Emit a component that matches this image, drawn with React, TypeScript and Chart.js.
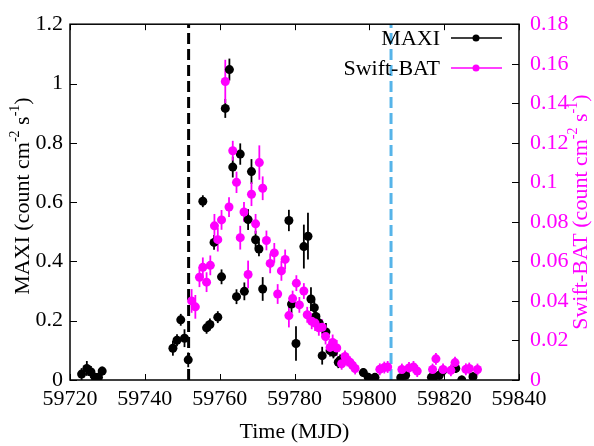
import React, { useEffect, useRef } from 'react';
import { Chart, registerables } from 'chart.js';

Chart.register(...registerables);

// ---- Data ----
const maxiMjd = [
  59723.1, 59724.5, 59725.6, 59726.7, 59727.6, 59728.6,
  59747.5, 59748.6, 59749.6, 59750.6, 59751.6,
  59755.5, 59756.5, 59757.4, 59758.5, 59759.5, 59760.5, 59761.5, 59762.6, 59763.5,
  59764.5, 59765.5, 59766.6, 59767.6, 59768.5, 59769.6, 59770.5, 59771.5,
  59778.5, 59779.2, 59780.4, 59782.5, 59783.6, 59784.4, 59785.3, 59785.7, 59786.6,
  59787.4, 59788.4, 59789.5, 59790.4, 59791.7, 59792.2,
  59798.4, 59799.7, 59801.5, 59808.4, 59809.7,
  59816.6, 59817.3, 59818.7, 59819.6, 59823.1, 59824.7, 59827.7,
];
const maxiRate = [
  0.020, 0.039, 0.027, 0.009, 0.009, 0.030,
  0.107, 0.134, 0.203, 0.141, 0.068,
  0.603, 0.176, 0.187, 0.464, 0.212, 0.348, 0.916, 1.047, 0.718,
  0.281, 0.762, 0.299, 0.541, 0.703, 0.473, 0.442, 0.307,
  0.538, 0.256, 0.123, 0.450, 0.485, 0.273, 0.244, 0.214, 0.192,
  0.082, 0.162, 0.099, 0.093, 0.060, 0.066,
  0.025, 0.009, 0.009, 0.008, 0.016,
  0.009, 0.011, 0.016, 0.031, 0.039, 0.000, 0.011,
];
const maxiErr = [
  0.020, 0.025, 0.020, 0.015, 0.015, 0.015,
  0.025, 0.020, 0.020, 0.030, 0.025,
  0.020, 0.020, 0.020, 0.025, 0.020, 0.025, 0.032, 0.037, 0.035,
  0.025, 0.036, 0.030, 0.035, 0.042, 0.030, 0.025, 0.040,
  0.036, 0.030, 0.058, 0.074, 0.079, 0.040, 0.030, 0.030, 0.030,
  0.030, 0.030, 0.020, 0.020, 0.020, 0.020,
  0.015, 0.015, 0.015, 0.015, 0.015,
  0.015, 0.015, 0.015, 0.015, 0.015, 0.015, 0.015,
];

const batMjd = [
  59752.5, 59753.5, 59754.6, 59755.5, 59756.5, 59757.5, 59758.6, 59759.5, 59760.5,
  59761.5, 59762.5, 59763.5, 59764.5, 59765.5, 59766.5, 59767.6, 59768.5, 59769.6,
  59770.6, 59771.5, 59772.5, 59773.5, 59774.6, 59775.5, 59776.5, 59777.5, 59778.5,
  59779.5, 59780.5, 59781.3, 59782.5, 59783.4, 59784.6, 59785.5, 59786.5, 59787.4,
  59788.3, 59789.5, 59790.2, 59791.3, 59792.6, 59793.5, 59794.1, 59794.8, 59795.5,
  59796.2, 59802.8, 59804.0, 59804.9, 59808.7, 59810.6, 59811.8, 59812.8,
  59816.9, 59817.8, 59819.7, 59821.8, 59822.9, 59825.8, 59826.7, 59828.9,
];
const batRate = [
  0.040, 0.037, 0.052, 0.057, 0.0495, 0.058, 0.078, 0.071, 0.081,
  0.151, 0.0875, 0.116, 0.100, 0.072, 0.085, 0.0534, 0.094, 0.079,
  0.110, 0.097, 0.0706, 0.059, 0.0643, 0.0435, 0.0552, 0.061, 0.0326,
  0.0412, 0.049, 0.038, 0.045, 0.033, 0.0297, 0.0288, 0.0264, 0.0267,
  0.022, 0.0165, 0.019, 0.0162, 0.0082, 0.0119, 0.0099, 0.009, 0.0074,
  0.0058, 0.0054, 0.0063, 0.0066, 0.0053, 0.0061, 0.0066, 0.0045,
  0.0053, 0.0107, 0.0053, 0.0049, 0.0088, 0.0054, 0.0058, 0.0053,
];
const batErr = [
  0.006, 0.006, 0.005, 0.005, 0.005, 0.005, 0.006, 0.006, 0.005,
  0.011, 0.005, 0.005, 0.0054, 0.006, 0.005, 0.007, 0.006, 0.005,
  0.0087, 0.006, 0.005, 0.005, 0.005, 0.005, 0.005, 0.005, 0.006,
  0.004, 0.004, 0.004, 0.004, 0.004, 0.004, 0.004, 0.004, 0.004,
  0.004, 0.004, 0.004, 0.004, 0.003, 0.003, 0.003, 0.003, 0.003,
  0.003, 0.003, 0.003, 0.003, 0.003, 0.003, 0.003, 0.003,
  0.003, 0.003, 0.003, 0.003, 0.003, 0.003, 0.003, 0.003,
];

const markerMjd = [59751.7, 59805.8];
const markerColors = ['#000000', '#56b4e9'];

const seriesLabels = ['MAXI', 'Swift-BAT'];
const seriesColors = ['#000000', '#ff00ff'];

const FONT = '"Liberation Serif", "Times New Roman", serif';

const errorPlugin = {
  id: 'errorBarsAndMarkers',
  beforeDatasetsDraw(chart: any) {
    const { ctx, chartArea: a, scales } = chart;
    ctx.save();
    markerMjd.forEach((m, i) => {
      const px = scales.x.getPixelForValue(m);
      ctx.strokeStyle = markerColors[i];
      ctx.lineWidth = 3;
      ctx.setLineDash([11, 5]);
      ctx.beginPath();
      ctx.moveTo(px, a.bottom);
      ctx.lineTo(px, a.top);
      ctx.stroke();
    });
    ctx.setLineDash([]);
    const drawErr = (xs: number[], ys: number[], es: number[], scale: any, color: string) => {
      ctx.strokeStyle = color;
      ctx.lineWidth = 1.8;
      for (let i = 0; i < xs.length; i++) {
        const px = scales.x.getPixelForValue(xs[i]);
        const y1 = scale.getPixelForValue(Math.max(0, ys[i] - es[i]));
        const y2 = scale.getPixelForValue(ys[i] + es[i]);
        ctx.beginPath();
        ctx.moveTo(px, y1);
        ctx.lineTo(px, y2);
        ctx.stroke();
      }
    };
    drawErr(maxiMjd, maxiRate, maxiErr, scales.y, seriesColors[0]);
    drawErr(batMjd, batRate, batErr, scales.y2, seriesColors[1]);
    ctx.restore();
  },
};

type Part = { t: string; sup?: boolean };

function drawRich(ctx: CanvasRenderingContext2D, parts: Part[], cx: number, cy: number, rot: number, color: string) {
  const base = `22px ${FONT}`;
  const sup = `14px ${FONT}`;
  ctx.save();
  ctx.translate(cx, cy);
  ctx.rotate(rot);
  ctx.fillStyle = color;
  ctx.textBaseline = 'middle';
  ctx.textAlign = 'left';
  let w = 0;
  parts.forEach((p) => {
    ctx.font = p.sup ? sup : base;
    w += ctx.measureText(p.t).width;
  });
  let x = -w / 2;
  parts.forEach((p) => {
    ctx.font = p.sup ? sup : base;
    ctx.fillText(p.t, x, p.sup ? -8 : 0);
    x += ctx.measureText(p.t).width;
  });
  ctx.restore();
}

const framePlugin = {
  id: 'frameTitlesLegend',
  afterDatasetsDraw(chart: any) {
    const { ctx, chartArea: a, scales } = chart;
    ctx.save();
    ctx.strokeStyle = '#000';
    ctx.lineWidth = 1.5;
    ctx.strokeRect(a.left, a.top, a.right - a.left, a.bottom - a.top);
    const line = (x1: number, y1: number, x2: number, y2: number) => {
      ctx.beginPath();
      ctx.moveTo(x1, y1);
      ctx.lineTo(x2, y2);
      ctx.stroke();
    };
    ctx.lineWidth = 1;
    scales.x.ticks.forEach((t: any) => {
      const px = Math.round(scales.x.getPixelForValue(t.value)) + 0.5;
      line(px, a.bottom, px, a.bottom - 6);
      line(px, a.top, px, a.top + 6);
    });
    scales.y.ticks.forEach((t: any) => {
      const py = Math.round(scales.y.getPixelForValue(t.value)) + 0.5;
      line(a.left, py, a.left + 7, py);
    });
    scales.y2.ticks.forEach((t: any) => {
      const py = Math.round(scales.y2.getPixelForValue(t.value)) + 0.5;
      line(a.right, py, a.right - 7, py);
    });

    const w = chart.width;
    const h = chart.height;
    drawRich(ctx, [{ t: 'Time (MJD)' }], (a.left + a.right) / 2, h - 14, 0, '#000');
    drawRich(
      ctx,
      [{ t: 'MAXI (count cm' }, { t: '-2', sup: true }, { t: ' s' }, { t: '-1', sup: true }, { t: ')' }],
      23, (a.top + a.bottom) / 2 - 6, -Math.PI / 2, '#000'
    );
    drawRich(
      ctx,
      [{ t: 'Swift-BAT (count cm' }, { t: '-2', sup: true }, { t: ' s' }, { t: '-1', sup: true }, { t: ')' }],
      w - 13, (a.top + a.bottom) / 2 + 10, -Math.PI / 2, '#ff00ff'
    );

    ctx.font = `22px ${FONT}`;
    ctx.textAlign = 'right';
    ctx.textBaseline = 'middle';
    const ly = [38, 68];
    seriesLabels.forEach((lab, i) => {
      ctx.fillStyle = '#000';
      ctx.fillText(lab, 440, ly[i] + 1);
      ctx.strokeStyle = seriesColors[i];
      ctx.lineWidth = 1.5;
      line(451, ly[i], 502, ly[i]);
      ctx.fillStyle = seriesColors[i];
      ctx.beginPath();
      ctx.arc(476, ly[i], 3.5, 0, Math.PI * 2);
      ctx.fill();
    });
    ctx.restore();
  },
};

export default function App() {
  const ref = useRef<HTMLCanvasElement>(null);
  useEffect(() => {
    if (!ref.current) return;
    const tickFont = { family: FONT, size: 22 };
    const chart = new Chart(ref.current, {
      type: 'scatter',
      data: {
        datasets: [
          {
            label: seriesLabels[0],
            data: maxiMjd.map((x, i) => ({ x, y: maxiRate[i] })),
            yAxisID: 'y',
            backgroundColor: seriesColors[0],
            borderColor: seriesColors[0],
            pointRadius: 4.5,
            borderWidth: 0,
            showLine: false,
            order: 2,
          },
          {
            label: seriesLabels[1],
            data: batMjd.map((x, i) => ({ x, y: batRate[i] })),
            yAxisID: 'y2',
            backgroundColor: seriesColors[1],
            borderColor: seriesColors[1],
            pointRadius: 4.5,
            borderWidth: 0,
            showLine: false,
            order: 1,
          },
        ],
      },
      options: {
        animation: false,
        responsive: false,
        maintainAspectRatio: false,
        layout: { padding: { top: 16, left: 0, right: 0, bottom: 0 } },
        plugins: { legend: { display: false }, tooltip: { enabled: false } },
        scales: {
          x: {
            type: 'linear',
            position: 'bottom',
            min: 59720,
            max: 59840,
            ticks: {
              stepSize: 20,
              callback: (v: any) => String(v),
              font: tickFont,
              color: '#000',
              padding: 6,
              maxRotation: 0,
              autoSkip: false,
            },
            grid: { display: false, drawTicks: false },
            border: { display: false },
            afterFit: (s: any) => { s.height = 66; },
          },
          y: {
            type: 'linear',
            position: 'left',
            min: 0,
            max: 1.2,
            ticks: {
              stepSize: 0.2,
              callback: (v: any) => String(+Number(v).toFixed(2)),
              font: tickFont,
              color: '#000',
              padding: 7,
            },
            grid: { display: false, drawTicks: false },
            border: { display: false },
            afterFit: (s: any) => { s.width = 70; },
          },
          y2: {
            type: 'linear',
            position: 'right',
            min: 0,
            max: 0.18,
            ticks: {
              stepSize: 0.02,
              callback: (v: any) => String(+Number(v).toFixed(3)),
              font: tickFont,
              color: '#ff00ff',
              padding: 11,
            },
            grid: { display: false, drawTicks: false },
            border: { display: false },
            afterFit: (s: any) => { s.width = 75; },
          },
        },
      },
      plugins: [errorPlugin, framePlugin],
    });
    return () => chart.destroy();
  }, []);
  return (
    <div style={{ position: 'fixed', left: 0, top: 0, width: 594, height: 446, background: '#fff' }}>
      <canvas ref={ref} width={594} height={446} style={{ width: 594, height: 446 }} />
    </div>
  );
}
